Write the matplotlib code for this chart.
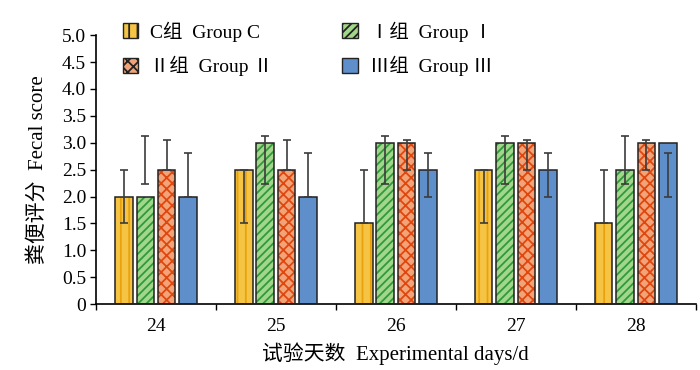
import matplotlib.pyplot as plt
import numpy as np
from matplotlib.patches import Patch

plt.rcParams['font.family'] = ['Liberation Serif', 'Noto Sans CJK SC']
plt.rcParams['hatch.linewidth'] = 1.3

# ------------------------------------------------------------------------------
# Data.
# ------------------------------------------------------------------------------
days = ['24', '25', '26', '27', '28']
group_labels = ['C组  Group C', 'Ⅰ组  Group Ⅰ', 'Ⅱ组  Group Ⅱ', 'Ⅲ组  Group Ⅲ']

score_c = [2.0, 2.5, 1.5, 2.5, 1.5]
score_1 = [2.0, 3.0, 3.0, 3.0, 2.5]
score_2 = [2.5, 2.5, 3.0, 3.0, 3.0]
score_3 = [2.0, 2.0, 2.5, 2.5, 3.0]

# error bar ends (low, high) as drawn in the figure
err_low_c = [1.5, 1.5, 1.5, 1.5, 1.5]
err_high_c = [2.5, 2.5, 2.5, 2.5, 2.5]
err_low_1 = [2.24, 2.24, 2.24, 2.24, 2.24]
err_high_1 = [3.13, 3.13, 3.13, 3.13, 3.13]
err_low_2 = [2.5, 2.5, 2.5, 2.5, 2.5]
err_high_2 = [3.06, 3.06, 3.06, 3.06, 3.06]
err_low_3 = [2.0, 2.0, 2.0, 2.0, 2.0]
err_high_3 = [2.81, 2.81, 2.81, 2.81, 2.81]

# ------------------------------------------------------------------------------
# Styling.
# ------------------------------------------------------------------------------
styles = [
    dict(face='#f6c445', hatch='||', hcolor='#e9a20c'),
    dict(face='#a2d68a', hatch='////', hcolor='#2f9a3c'),
    dict(face='#f2a478', hatch='xxx', hcolor='#e0470f'),
    dict(face='#5f8fca', hatch=None, hcolor='#5f8fca'),
]
series = [score_c, score_1, score_2, score_3]
lows = [err_low_c, err_low_1, err_low_2, err_low_3]
highs = [err_high_c, err_high_1, err_high_2, err_high_3]

fig = plt.figure(figsize=(7.0, 3.7), dpi=100)
ax = fig.add_axes([0.137, 0.178, 0.857, 0.727])

x = np.arange(len(days))
width = 0.145
step = 0.178
offsets = (np.arange(4) - 1.5) * step

for vals, lo, hi, off, st in zip(series, lows, highs, offsets, styles):
    pos = x + off
    ax.bar(pos, vals, width, color=st['face'], hatch=st['hatch'],
           edgecolor=st['hcolor'], linewidth=0, zorder=2)
    ax.bar(pos, vals, width, fill=False, edgecolor='#222222',
           linewidth=1.1, zorder=3)
    lo = np.array(lo)
    hi = np.array(hi)
    ax.errorbar(pos, (lo + hi) / 2, yerr=(hi - lo) / 2, fmt='none',
                ecolor='#3c3c3c', elinewidth=1.2, capsize=3, capthick=1.2,
                zorder=4)

ax.set_xlim(-0.5, len(days) - 0.5)
ax.set_ylim(0, 5.0)
ax.set_yticks(np.arange(0, 5.01, 0.5))
ax.set_yticklabels(['0'] + [f'{v:.1f}' for v in np.arange(0.5, 5.01, 0.5)])
ax.set_xticks(x)
ax.set_xticklabels(days)
ax.set_xticks(np.arange(-0.5, len(days), 1.0), minor=True)
ax.tick_params(axis='x', which='major', length=0, pad=10, labelsize=14)
ax.tick_params(axis='x', which='minor', length=4, width=1, direction='out')
ax.tick_params(axis='y', length=4, width=1, labelsize=14, pad=3)

for side in ['top', 'right']:
    ax.spines[side].set_visible(False)
for side in ['left', 'bottom']:
    ax.spines[side].set_linewidth(1.2)

ax.set_xlabel('试验天数  Experimental days/d', fontsize=15, labelpad=5)
ax.set_ylabel('粪便评分  Fecal score', fontsize=15, labelpad=10)

handles = []
for st, lab in zip(styles, group_labels):
    handles.append(Patch(facecolor=st['face'], hatch=st['hatch'],
                         edgecolor='#222222', linewidth=1.0, label=lab))
order = [0, 2, 1, 3]
fig.legend([handles[i] for i in order], [group_labels[i] for i in order],
           ncol=2, loc='upper left', bbox_to_anchor=(0.15, 0.99),
           frameon=False, fontsize=14, handlelength=0.8, handleheight=0.8,
           handletextpad=0.6, columnspacing=3.6, labelspacing=0.75)

fig.savefig('out.png', dpi=100)
